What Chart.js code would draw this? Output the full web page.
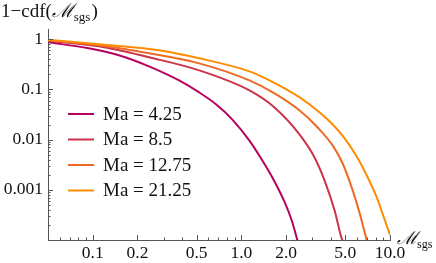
<!DOCTYPE html>
<html>
<head>
<meta charset="utf-8">
<script src="https://cdn.jsdelivr.net/npm/chart.js@4/dist/chart.umd.min.js"></script>
<style>
html,body{margin:0;padding:0;background:#fff;}
#wrap{position:relative;width:436px;height:263px;}
</style>
</head>
<body>
<div id="wrap"><canvas id="c" width="436" height="263"></canvas></div>
<script>
// ---- data ----
const seriesLabels = ['Ma = 4.25', 'Ma = 8.5', 'Ma = 12.75', 'Ma = 21.25'];
const seriesColors = ['#B8005F', '#CC3348', '#EE6A24', '#FF8C00'];

const ma425X = [0.05, 0.094, 0.150, 0.239, 0.381, 0.520, 0.678, 0.870, 1.133, 1.387, 1.620, 1.952, 2.177, 2.390];
const ma425Y = [0.871, 0.661, 0.479, 0.288, 0.151, 0.0871, 0.0501, 0.0251, 0.00955, 0.00380, 0.00174, 0.000575, 0.000251, 0.0000955];

const ma85X = [0.05, 0.110, 0.239, 0.520, 1.133, 1.671, 2.466, 3.113, 3.638, 4.249, 4.740, 4.89];
const ma85Y = [0.933, 0.724, 0.437, 0.240, 0.0955, 0.0437, 0.0126, 0.00437, 0.00151, 0.000380, 0.000105, 0.00009];

const ma1275X = [0.05, 0.110, 0.239, 0.520, 1.133, 1.671, 2.466, 3.263, 4.120, 4.814, 5.623, 6.270, 6.992];
const ma1275Y = [0.955, 0.759, 0.525, 0.331, 0.151, 0.0832, 0.0380, 0.0174, 0.00759, 0.00331, 0.000955, 0.000331, 0.0000955];

const ma2125X = [0.05, 0.110, 0.279, 0.520, 1.133, 1.546, 2.466, 3.365, 4.120, 4.966, 5.984, 6.992, 8.170, 8.970, 10.0];
const ma2125Y = [0.977, 0.794, 0.603, 0.417, 0.229, 0.151, 0.0692, 0.0347, 0.0200, 0.0105, 0.00457, 0.00191, 0.000692, 0.000316, 0.000126];

const xMajorTicks = [0.1, 0.2, 0.5, 1, 2, 5, 10];
const xMajorLabels = ['0.1', '0.2', '0.5', '1.0', '2.0', '5.0', '10.0'];
const yMajorTicks = [1, 0.1, 0.01, 0.001];
const yMajorLabels = ['1', '0.1', '0.01', '0.001'];

const xRange = [0.05, 10];
const yRange = [0.0001, 1.6];

// ---- build ----
const xsAll = [ma425X, ma85X, ma1275X, ma2125X];
const ysAll = [ma425Y, ma85Y, ma1275Y, ma2125Y];

function minorTicks(lo, hi) {
  const out = [];
  for (let e = -5; e <= 2; e++) {
    for (let m = 1; m <= 9; m++) {
      const v = +(m * Math.pow(10, e)).toPrecision(6);
      if (v >= lo * 0.9999 && v <= hi * 1.0001) out.push(v);
    }
  }
  return out;
}
const xTickVals = minorTicks(xRange[0], xRange[1]);
const yTickVals = minorTicks(yRange[0], yRange[1]);

function labelFor(v, majors, labels) {
  for (let i = 0; i < majors.length; i++) {
    if (Math.abs(v - majors[i]) / majors[i] < 1e-6) return labels[i];
  }
  return '';
}

const SERIF = "'Liberation Serif', 'Times New Roman', 'DejaVu Serif', serif";

const datasets = seriesLabels.map((lab, i) => ({
  label: lab,
  data: xsAll[i].map((x, j) => ({x: x, y: ysAll[i][j]})),
  borderColor: seriesColors[i],
  backgroundColor: seriesColors[i],
  borderWidth: 2,
  pointRadius: 0,
  showLine: true,
  fill: false,
  cubicInterpolationMode: 'monotone'
})).reverse();

const inTicks = {
  id: 'inTicks',
  afterDraw(chart) {
    const ctx = chart.ctx;
    const ca = chart.chartArea;
    ctx.save();
    ctx.strokeStyle = '#555';
    ctx.lineWidth = 1;
    const xs = chart.scales.x, ys = chart.scales.y;
    xs.ticks.forEach(t => {
      const p = Math.round(xs.getPixelForValue(t.value)) + 0.5;
      const major = labelFor(t.value, xMajorTicks, xMajorLabels) !== '';
      const len = major ? 5 : 2.5;
      ctx.beginPath(); ctx.moveTo(p, ca.bottom); ctx.lineTo(p, ca.bottom - len); ctx.stroke();
    });
    ys.ticks.forEach(t => {
      const p = Math.round(ys.getPixelForValue(t.value)) + 0.5;
      const major = labelFor(t.value, yMajorTicks, yMajorLabels) !== '';
      const len = major ? 5 : 2.5;
      ctx.beginPath(); ctx.moveTo(ca.left, p); ctx.lineTo(ca.left + len, p); ctx.stroke();
    });
    ctx.restore();
  }
};

const textPlugin = {
  id: 'texts',
  afterDraw(chart) {
    const ctx = chart.ctx;
    const ca = chart.chartArea;
    ctx.save();
    ctx.fillStyle = '#111';
    ctx.textBaseline = 'alphabetic';
    ctx.textAlign = 'left';
    // title
    let x = 1;
    ctx.font = '19px ' + SERIF;
    ctx.fillText('1\u2212cdf(', x, 17); x += ctx.measureText('1\u2212cdf(').width;
    ctx.font = 'italic 19px ' + SERIF;
    ctx.fillText('\u2133', x, 17); x += ctx.measureText('\u2133').width;
    ctx.font = '13px ' + SERIF;
    ctx.fillText('sgs', x, 21); x += ctx.measureText('sgs').width + 1;
    ctx.font = '19px ' + SERIF;
    ctx.fillText(')', x, 17);
    // x axis label
    x = ca.right + 7;
    ctx.font = 'italic 18px ' + SERIF;
    ctx.fillText('\u2133', x, 244); x += ctx.measureText('\u2133').width - 1;
    ctx.font = '12px ' + SERIF;
    ctx.fillText('sgs', x, 248);
    // legend
    const legY = [114, 139.5, 165, 190.5];
    seriesLabels.forEach((lab, i) => {
      ctx.strokeStyle = seriesColors[i];
      ctx.lineWidth = 2;
      ctx.beginPath(); ctx.moveTo(68, legY[i]); ctx.lineTo(94, legY[i]); ctx.stroke();
      ctx.font = '19px ' + SERIF;
      ctx.textBaseline = 'middle';
      ctx.fillStyle = '#111';
      ctx.fillText(lab, 103, legY[i] + 1);
    });
    ctx.restore();
  }
};

new Chart(document.getElementById('c'), {
  type: 'scatter',
  data: {datasets: datasets},
  options: {
    responsive: false,
    animation: false,
    devicePixelRatio: 1,
    layout: {padding: {top: 29, right: 46, left: 0, bottom: 0}},
    plugins: {legend: {display: false}, tooltip: {enabled: false}},
    scales: {
      x: {
        type: 'logarithmic',
        min: xRange[0], max: xRange[1],
        afterFit: s => { s.height = 23; },
        afterBuildTicks: s => { s.ticks = xTickVals.map(v => ({value: v})); },
        grid: {display: false, drawTicks: false},
        border: {display: true, color: '#555', width: 1},
        ticks: {
          autoSkip: false, maxRotation: 0, minRotation: 0, padding: 3,
          color: '#111',
          font: {family: SERIF, size: 17.5},
          callback: v => labelFor(v, xMajorTicks, xMajorLabels)
        }
      },
      y: {
        type: 'logarithmic',
        min: yRange[0], max: yRange[1],
        afterFit: s => { s.width = 48; },
        afterBuildTicks: s => { s.ticks = yTickVals.map(v => ({value: v})); },
        grid: {display: false, drawTicks: false},
        border: {display: true, color: '#555', width: 1},
        ticks: {
          autoSkip: false, padding: 5,
          color: '#111',
          font: {family: SERIF, size: 17.5},
          callback: v => labelFor(v, yMajorTicks, yMajorLabels)
        }
      }
    }
  },
  plugins: [inTicks, textPlugin]
});
</script>
</body>
</html>
